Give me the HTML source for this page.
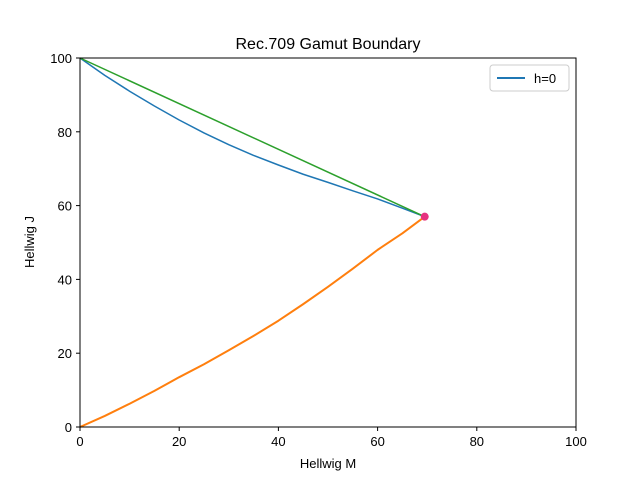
<!DOCTYPE html>
<html><head><meta charset="utf-8"><style>
body{margin:0;background:#fff;}
svg text{font-family:"Liberation Sans","DejaVu Sans",sans-serif;}
</style></head><body>
<svg id="chart" width="640" height="480" xmlns="http://www.w3.org/2000/svg">
<rect width="640" height="480" fill="#fff"/>
<text x="328" y="49" font-size="16" text-anchor="middle">Rec.709 Gamut Boundary</text>
<g id="plot"></g>
<rect x="80" y="58" width="496" height="369" fill="none" stroke="#000" stroke-width="1"/>
<g id="ticks"></g>
<text x="328" y="468" font-size="13" text-anchor="middle">Hellwig M</text>
<text x="34" y="242" font-size="13" text-anchor="middle" transform="rotate(-90 34 242)">Hellwig J</text>
<g>
<rect x="490" y="65" width="79" height="26" rx="3" fill="#fff" stroke="#ccc"/>
<line x1="497" y1="78" x2="525" y2="78" stroke="#1f77b4" stroke-width="2"/>
<text x="534" y="83" font-size="13">h=0</text>
</g>
</svg>
<script>
const xTicks=[0,20,40,60,80,100];
const yTicks=[0,20,40,60,80,100];
const upperM=[0,5,10,15,20,25,30,35,40,45,50,55,60,65,69.5];
const upperJ=[100,95.3,91,87,83.2,79.7,76.5,73.6,71,68.5,66.3,64,61.8,59.3,57];
const lowerM=[0,5,10,15,20,25,30,35,40,45,50,55,60,65,69.5];
const lowerJ=[0,3,6.3,9.8,13.5,17,20.8,24.7,28.8,33.3,38,42.9,48,52.5,57];
const cuspM=[69.5];
const cuspJ=[57];
const X=m=>80+m*4.96, Y=j=>427-j*3.69;
const NS='http://www.w3.org/2000/svg';
const plot=document.getElementById('plot'), tk=document.getElementById('ticks');
function line(ms,js,color,name,w){
  const p=document.createElementNS(NS,'polyline');
  p.setAttribute('points',ms.map((m,i)=>X(m)+','+Y(js[i])).join(' '));
  p.setAttribute('fill','none');p.setAttribute('stroke',color);p.setAttribute('stroke-width',w);
  p.setAttribute('stroke-linejoin','round');
  
  
  plot.appendChild(p);
}
line(upperM,upperJ,'#1f77b4','upper-boundary-line','1.5');
line([0,cuspM[0]],[100,cuspJ[0]],'#2ca02c','straight-line','1.5');
line(lowerM,lowerJ,'#ff7f0e','lower-boundary-line','2');
cuspM.forEach((m,i)=>{
  const c=document.createElementNS(NS,'circle');
  c.setAttribute('cx',X(m));c.setAttribute('cy',Y(cuspJ[i]));c.setAttribute('r','4');c.setAttribute('fill','#e6327f');
  
  
  plot.appendChild(c);
});
xTicks.forEach(v=>{
  const l=document.createElementNS(NS,'line');
  l.setAttribute('x1',X(v));l.setAttribute('x2',X(v));l.setAttribute('y1',427);l.setAttribute('y2',431);l.setAttribute('stroke','#000');
  
  
  tk.appendChild(l);
  const t=document.createElementNS(NS,'text');
  t.setAttribute('x',X(v));t.setAttribute('y',446);t.setAttribute('font-size','13');t.setAttribute('text-anchor','middle');t.textContent=v;
  
  
  tk.appendChild(t);
});
yTicks.forEach(v=>{
  const l=document.createElementNS(NS,'line');
  l.setAttribute('x1',76);l.setAttribute('x2',80);l.setAttribute('y1',Y(v));l.setAttribute('y2',Y(v));l.setAttribute('stroke','#000');
  
  
  tk.appendChild(l);
  const t=document.createElementNS(NS,'text');
  t.setAttribute('x',72);t.setAttribute('y',Y(v)+5);t.setAttribute('font-size','13');t.setAttribute('text-anchor','end');t.textContent=v;
  
  
  tk.appendChild(t);
});
</script>
</body></html>
